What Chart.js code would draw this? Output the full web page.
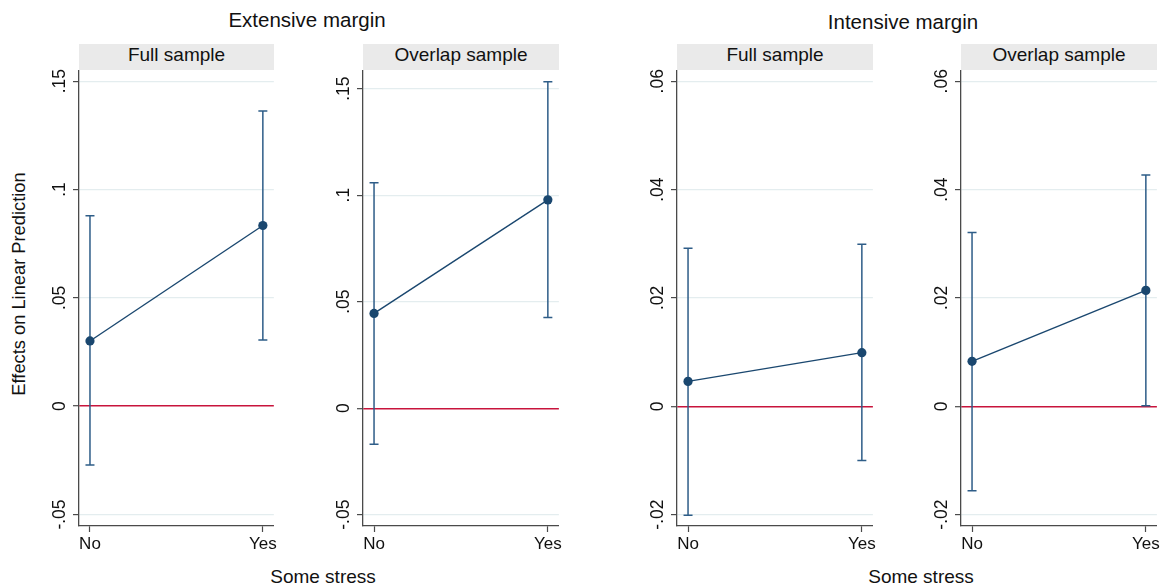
<!DOCTYPE html>
<html>
<head>
<meta charset="utf-8">
<title>Margins: some stress</title>
<script src="https://cdn.jsdelivr.net/npm/chart.js@4.4.0/dist/chart.umd.min.js"></script>
<style>
    body { margin: 0; background: #fff; font-family: 'Liberation Sans', Arial, sans-serif; }
    #wrap { position: relative; width: 1163px; height: 586px; overflow: hidden; background: #fff; }
    #wrap canvas { position: absolute; }
    .strip { position: absolute; top: 44px; height: 26px; background: #eaeaea; text-align: center; font-size: 19px; line-height: 22px; color: #111; }
    .txt { position: absolute; color: #111; white-space: nowrap; text-align: center; }
</style>
</head>
<body>
<div id="wrap">
    <div class="txt" style="left:207px; top:10px; width:200px; font-size:20.5px; line-height:20px;">Extensive margin</div>
    <div class="txt" style="left:803px; top:12px; width:200px; font-size:20.5px; line-height:20px;">Intensive margin</div>
    <div class="txt" style="left:-131px; top:274px; width:300px; font-size:18.3px; line-height:20px; transform:rotate(-90deg);">Effects on Linear Prediction</div>
    <div class="txt" style="left:223px; top:567px; width:200px; font-size:19px; line-height:20px;">Some stress</div>
    <div class="txt" style="left:821px; top:567px; width:200px; font-size:19px; line-height:20px;">Some stress</div>

    <div class="strip" style="left:79px; width:195px;">Full sample</div>
    <div class="strip" style="left:363px; width:196px;">Overlap sample</div>
    <div class="strip" style="left:677px; width:196px;">Full sample</div>
    <div class="strip" style="left:961px; width:196px;">Overlap sample</div>

    <canvas id="extFull"></canvas>
    <canvas id="extOverlap"></canvas>
    <canvas id="intFull"></canvas>
    <canvas id="intOverlap"></canvas>
</div>

<script>
// Data
const categories = ['No', 'Yes'];

// Extensive margin
const extFullEst = [0.0301, 0.0834];
const extFullLo  = [-0.0272, 0.0306];
const extFullHi  = [0.0879, 0.1362];

const extOverlapEst = [0.0445, 0.0978];
const extOverlapLo  = [-0.0169, 0.0426];
const extOverlapHi  = [0.1058, 0.1533];

// Intensive margin
const intFullEst = [0.0046, 0.0099];
const intFullLo  = [-0.0201, -0.0100];
const intFullHi  = [0.0292, 0.0299];

const intOverlapEst = [0.0083, 0.0214];
const intOverlapLo  = [-0.0156, 0.0001];
const intOverlapHi  = [0.0321, 0.0427];

// Axis ticks
const extTicks = [-0.05, 0, 0.05, 0.1, 0.15];
const extTickLabels = ['-.05', '0', '.05', '.1', '.15'];
const intTicks = [-0.02, 0, 0.02, 0.04, 0.06];
const intTickLabels = ['-.02', '0', '.02', '.04', '.06'];

const NAVY = '#1a476f';
const CI_COLOR = '#2e5d88';
const ZERO_LINE = '#c8143c';
const GRID = '#e4edef';
const AXIS = '#4a4a4a';
const FONT = "'Liberation Sans', Arial, sans-serif";

// Error bars (drawn under the points and connecting line)
const errorBarPlugin = {
    id: 'errorBars',
    beforeDatasetsDraw(chart) {
        const { ctx, scales: { x, y } } = chart;
        const lo = chart.options.plugins.errorBars.lo;
        const hi = chart.options.plugins.errorBars.hi;
        ctx.save();
        ctx.strokeStyle = CI_COLOR;
        ctx.lineWidth = 1.5;
        lo.forEach((v, i) => {
            const px = x.getPixelForValue(i);
            const yLo = y.getPixelForValue(v);
            const yHi = y.getPixelForValue(hi[i]);
            ctx.beginPath();
            ctx.moveTo(px, yLo);
            ctx.lineTo(px, yHi);
            ctx.moveTo(px - 4.5, yLo);
            ctx.lineTo(px + 4.5, yLo);
            ctx.moveTo(px - 4.5, yHi);
            ctx.lineTo(px + 4.5, yHi);
            ctx.stroke();
        });
        ctx.restore();
    }
};

// Rotated y tick labels like Stata
const yLabelPlugin = {
    id: 'yLabels',
    afterDraw(chart) {
        const { ctx, scales: { y } } = chart;
        const labels = chart.options.plugins.yLabels.labels;
        ctx.save();
        ctx.fillStyle = '#111';
        ctx.font = '17.5px ' + FONT;
        ctx.textAlign = 'center';
        ctx.textBaseline = 'alphabetic';
        y.ticks.forEach((t, i) => {
            ctx.save();
            ctx.translate(y.right - 14, y.getPixelForValue(t.value));
            ctx.rotate(-Math.PI / 2);
            ctx.fillText(labels[i], 0, 0);
            ctx.restore();
        });
        ctx.restore();
    }
};

function makePanel(id, plotLeft, plotWidth, est, lo, hi, yMin, yMax, ticks, tickLabels) {
    const canvas = document.getElementById(id);
    const axisW = 50, top = 60, height = 500;
    canvas.width = axisW + plotWidth + 5;
    canvas.height = height;
    canvas.style.left = (plotLeft - axisW) + 'px';
    canvas.style.top = top + 'px';

    const m = 0.0635;
    return new Chart(canvas.getContext('2d'), {
        type: 'line',
        data: {
            datasets: [{
                data: est.map((v, i) => ({ x: i, y: v })),
                borderColor: NAVY,
                borderWidth: 1.4,
                pointRadius: 4.6,
                pointBackgroundColor: NAVY,
                pointBorderWidth: 0,
                tension: 0,
                fill: false
            }]
        },
        options: {
            responsive: false,
            animation: false,
            layout: { padding: { top: 11, right: 5, left: 0, bottom: 0 } },
            plugins: {
                legend: { display: false },
                tooltip: { enabled: false },
                errorBars: { lo: lo, hi: hi },
                yLabels: { labels: tickLabels }
            },
            scales: {
                x: {
                    type: 'linear',
                    min: -m,
                    max: 1 + m,
                    afterBuildTicks: s => { s.ticks = categories.map((c, i) => ({ value: i })); },
                    afterFit: s => { s.height = 34; },
                    ticks: {
                        callback: v => categories[v],
                        color: '#111',
                        font: { family: FONT, size: 17 },
                        padding: 2,
                        maxRotation: 0
                    },
                    grid: { drawOnChartArea: false, drawTicks: true, tickLength: 6, tickColor: AXIS, tickWidth: 1.2 },
                    border: { display: true, color: AXIS, width: 1.3 }
                },
                y: {
                    min: yMin,
                    max: yMax,
                    afterBuildTicks: s => { s.ticks = ticks.map(v => ({ value: v })); },
                    afterFit: s => { s.width = axisW; },
                    ticks: { display: false },
                    grid: {
                        color: c => (c.tick && c.tick.value === 0) ? ZERO_LINE : GRID,
                        lineWidth: c => (c.tick && c.tick.value === 0) ? 1.4 : 1.2,
                        drawTicks: true,
                        tickLength: 6,
                        tickColor: AXIS,
                        tickWidth: 1.2
                    },
                    border: { display: true, color: AXIS, width: 1.3 }
                }
            }
        },
        plugins: [errorBarPlugin, yLabelPlugin]
    });
}

makePanel('extFull', 79, 195, extFullEst, extFullLo, extFullHi, -0.0553, 0.1547, extTicks, extTickLabels);
makePanel('extOverlap', 363, 196, extOverlapEst, extOverlapLo, extOverlapHi, -0.0553, 0.1583, extTicks, extTickLabels);
makePanel('intFull', 677, 196, intFullEst, intFullLo, intFullHi, -0.0221, 0.0619, intTicks, intTickLabels);
makePanel('intOverlap', 961, 196, intOverlapEst, intOverlapLo, intOverlapHi, -0.0221, 0.0619, intTicks, intTickLabels);
</script>
</body>
</html>
